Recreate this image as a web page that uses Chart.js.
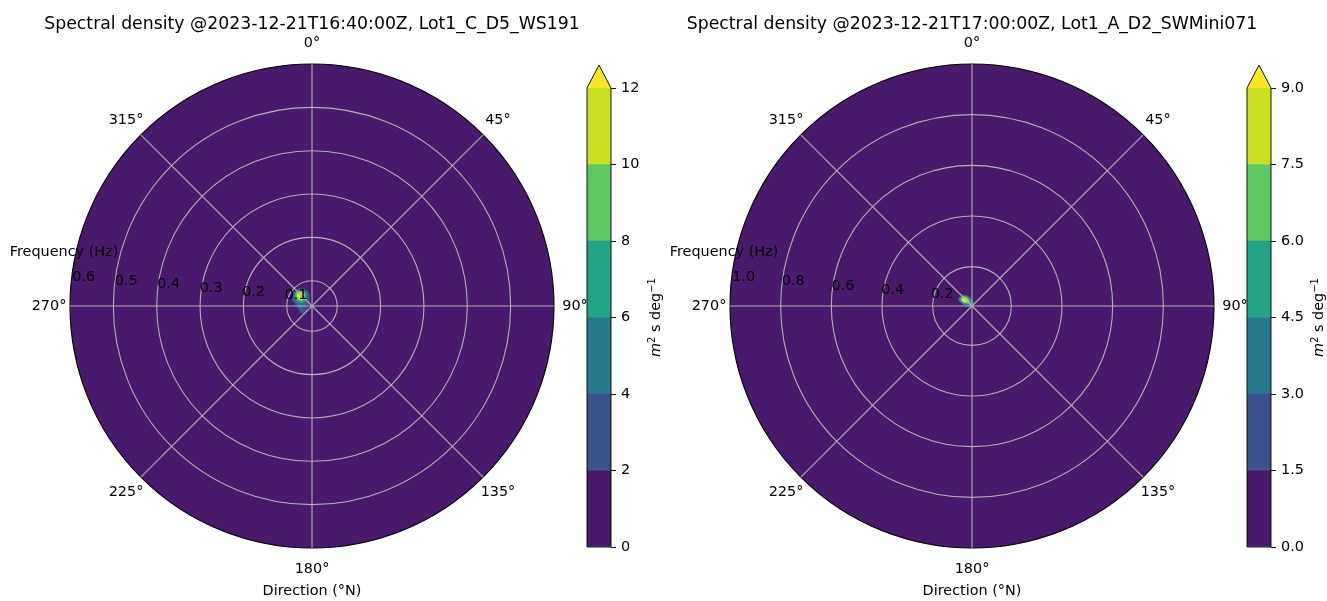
<!DOCTYPE html>
<html>
<head>
<meta charset="utf-8">
<title>Directional wave spectra</title>
<script src="https://cdn.jsdelivr.net/npm/chart.js@4/dist/chart.umd.min.js"></script>
<style>
  html, body { margin: 0; padding: 0; background: #ffffff; }
  #figure { position: relative; width: 1327px; height: 601px; overflow: hidden; }
  #figure canvas { position: absolute; top: 0; }
</style>
</head>
<body>
<div id="figure">
  <canvas id="polarWS191" width="640" height="601" style="left:0px"></canvas>
  <canvas id="cbarWS191" width="86" height="601" style="left:577px"></canvas>
  <canvas id="polarSW071" width="640" height="601" style="left:660px"></canvas>
  <canvas id="cbarSW071" width="90" height="601" style="left:1237px"></canvas>
</div>
<script>
// ---------------------------------------------------------------------------
// Shared axis labels
// ---------------------------------------------------------------------------
const directionLabels = ['0°', '45°', '90°', '135°', '180°', '225°', '270°', '315°'];

// ---------------------------------------------------------------------------
// Buoy Lot1_C_D5_WS191
// ---------------------------------------------------------------------------
const titleWS191 = 'Spectral density @2023-12-21T16:40:00Z, Lot1_C_D5_WS191';
const freqLimitsWS191 = [0.0418, 0.6];
const freqTicksWS191 = [0.1, 0.2, 0.3, 0.4, 0.5, 0.6];
const freqTickLabelsWS191 = ['0.1', '0.2', '0.3', '0.4', '0.5', '0.6'];
const levelsWS191 = [0, 2, 4, 6, 8, 10, 12];
const levelTickLabelsWS191 = ['0', '2', '4', '6', '8', '10', '12'];
// filled-contour outlines, [direction °N, frequency Hz]
const ws191Above2 = [[306.4, 0.0962], [326.3, 0.0917], [342.6, 0.0805], [347.5, 0.0630], [303.7, 0.0501],
                     [231.3, 0.0566], [225.0, 0.0679], [237.5, 0.0718], [266.2, 0.0764], [286.7, 0.0900]];
const ws191Above4 = [[309.5, 0.0926], [327.1, 0.0885], [340.3, 0.0761], [320.2, 0.0598], [270.0, 0.0603],
                     [254.7, 0.0681], [274.1, 0.0742], [291.3, 0.0863]];
const ws191Above6 = [[307.4, 0.0912], [325.5, 0.0866], [335.2, 0.0748], [305.5, 0.0616], [284.0, 0.0704],
                     [295.2, 0.0852]];
const ws191Above8 = [[308.9, 0.0893], [323.7, 0.0847], [329.7, 0.0739], [306.9, 0.0649], [292.6, 0.0718],
                     [296.6, 0.0831]];
const ws191Above10 = [[310.9, 0.0875], [321.8, 0.0829], [324.0, 0.0732], [307.9, 0.0681], [296.6, 0.0727],
                      [301.0, 0.0822]];
const ws191Above12 = [[310.6, 0.0842], [319.8, 0.0810], [318.0, 0.0729], [308.7, 0.0713], [301.6, 0.0771],
                      [305.5, 0.0815]];

// ---------------------------------------------------------------------------
// Buoy Lot1_A_D2_SWMini071
// ---------------------------------------------------------------------------
const titleSW071 = 'Spectral density @2023-12-21T17:00:00Z, Lot1_A_D2_SWMini071';
const freqLimitsSW071 = [0.0447, 1.0];
const freqTicksSW071 = [0.2, 0.4, 0.6, 0.8, 1.0];
const freqTickLabelsSW071 = ['0.2', '0.4', '0.6', '0.8', '1.0'];
const levelsSW071 = [0, 1.5, 3, 4.5, 6, 7.5, 9];
const levelTickLabelsSW071 = ['0.0', '1.5', '3.0', '4.5', '6.0', '7.5', '9.0'];
const sw071Above1p5 = [[304.7, 0.1071], [322.0, 0.1023], [339.1, 0.0889], [0.0, 0.0723], [33.7, 0.0589],
                       [90.0, 0.0487], [251.6, 0.0572], [270.0, 0.0723], [285.3, 0.0897], [293.2, 0.1048]];
const sw071Above3 = [[305.3, 0.1027], [322.7, 0.0968], [337.2, 0.0854], [350.5, 0.0687], [18.4, 0.0572],
                     [296.6, 0.0491], [275.7, 0.0645], [286.7, 0.0859], [294.8, 0.1013]];
const sw071Above4p5 = [[304.8, 0.1000], [321.3, 0.0953], [336.0, 0.0836], [344.7, 0.0672], [350.5, 0.0567],
                       [296.6, 0.0579], [285.9, 0.0734], [290.0, 0.0909], [296.6, 0.0977]];
const sw071Above6 = [[306.0, 0.0984], [319.9, 0.0937], [330.6, 0.0809], [333.4, 0.0668], [320.2, 0.0601],
                     [294.4, 0.0685], [291.3, 0.0828], [296.6, 0.0933]];
const sw071Above7p5 = [[306.9, 0.0941], [319.6, 0.0905], [325.2, 0.0793], [322.1, 0.0672], [300.3, 0.0721],
                       [296.6, 0.0846], [299.7, 0.0925]];
const sw071Above9 = [[306.4, 0.0913], [318.8, 0.0866], [322.4, 0.0771], [315.0, 0.0698], [299.7, 0.0765],
                     [299.1, 0.0854]];

// ---------------------------------------------------------------------------
// Styling
// ---------------------------------------------------------------------------
const bandColors = ['#481a6c', '#3b528b', '#29798e', '#21a585', '#5ec962', '#c8e020'];
const overColor = '#fde725';
const gridColor = '#b0b0b0';
const FONT = '"DejaVu Sans", "Liberation Sans", sans-serif';
const LABEL_PX = 14.4;
const TITLE_PX = 17.3;

Chart.defaults.font.family = FONT;
Chart.defaults.font.size = LABEL_PX;
Chart.defaults.color = '#000';

const panels = [
  {
    polarId: 'polarWS191', cbarId: 'cbarWS191',
    title: titleWS191,
    freqLimits: freqLimitsWS191, freqTicks: freqTicksWS191, freqTickLabels: freqTickLabelsWS191,
    levels: levelsWS191, levelTickLabels: levelTickLabelsWS191,
    contours: [ws191Above2, ws191Above4, ws191Above6, ws191Above8, ws191Above10, ws191Above12],
    cbarAxisWidth: 52, unitOffset: 44
  },
  {
    polarId: 'polarSW071', cbarId: 'cbarSW071',
    title: titleSW071,
    freqLimits: freqLimitsSW071, freqTicks: freqTicksSW071, freqTickLabels: freqTickLabelsSW071,
    levels: levelsSW071, levelTickLabels: levelTickLabelsSW071,
    contours: [sw071Above1p5, sw071Above3, sw071Above4p5, sw071Above6, sw071Above7p5, sw071Above9],
    cbarAxisWidth: 56, unitOffset: 47
  }
];

// Compass direction (clockwise from north) and frequency -> plane coordinates,
// with the lowest frequency sitting at the pole.
function toPlane(dir, f, fmin) {
  const t = dir * Math.PI / 180;
  const d = f - fmin;
  return { x: d * Math.sin(t), y: d * Math.cos(t) };
}

// Titles, compass labels, frequency labels and axis names around the polar axes.
function polarTextPlugin(p) {
  return {
    id: 'polarText',
    afterDraw(chart) {
      const r = chart.scales.r;
      const ctx = chart.ctx;
      ctx.save();
      ctx.fillStyle = '#000';
      ctx.textAlign = 'center';
      ctx.textBaseline = 'middle';

      ctx.font = TITLE_PX + 'px ' + FONT;
      ctx.fillText(p.title, r.xCenter, 24.5);

      ctx.font = LABEL_PX + 'px ' + FONT;
      chart.data.labels.forEach((lab, i) => {
        const pos = r.getPointPosition(i, r.drawingArea + 21);
        ctx.fillText(lab, pos.x, pos.y);
      });

      // frequency labels run just above the westward spoke
      p.freqTicks.forEach((v, i) => {
        const d = r.getDistanceFromCenterForValue(v);
        ctx.fillText(p.freqTickLabels[i], r.xCenter - 0.98 * d + 8.8, r.yCenter - 0.083 * d - 8.5);
      });

      ctx.fillText('Frequency (Hz)', r.xCenter - 248, 252);
      ctx.fillText('Direction (°N)', r.xCenter, 591.5);
      ctx.restore();
    }
  };
}

function buildPolar(p) {
  const [fmin, fmax] = p.freqLimits;
  const span = fmax - fmin;
  const common = {
    type: 'line', indexAxis: 'x', fill: 'shape', borderWidth: 0, pointRadius: 0, pointHitRadius: 0,
    tension: 0.35, xAxisID: 'x', yAxisID: 'y'
  };
  const datasets = [];

  // lowest band fills the whole disc out to the highest frequency
  const rim = [];
  for (let a = 0; a <= 360; a += 2) rim.push(toPlane(a, fmax, fmin));
  datasets.push(Object.assign({}, common, { data: rim, backgroundColor: bandColors[0], tension: 0, order: 100 }));

  p.contours.forEach((poly, k) => {
    const pts = poly.map(([d, f]) => toPlane(d, f, fmin));
    pts.push(pts[0]);
    const color = k + 1 < bandColors.length ? bandColors[k + 1] : overColor;
    datasets.push(Object.assign({}, common, { data: pts, backgroundColor: color, order: 99 - k }));
  });

  const outer = p.freqTicks.length;
  new Chart(document.getElementById(p.polarId), {
    type: 'radar',
    data: { labels: directionLabels, datasets },
    options: {
      responsive: false,
      animation: false,
      events: [],
      layout: { padding: { left: 70, right: 86, top: 64, bottom: 53 } },
      plugins: { legend: { display: false }, tooltip: { enabled: false }, title: { display: false } },
      scales: {
        r: {
          min: fmin,
          max: fmax,
          startAngle: 0,
          afterBuildTicks: s => { s.ticks = [fmin].concat(p.freqTicks).map(v => ({ value: v })); },
          ticks: { display: false },
          pointLabels: { display: false },
          grid: {
            circular: true,
            z: 1,
            color: c => (c.index === outer ? '#000' : gridColor),
            lineWidth: 1.1
          },
          angleLines: { display: true, color: gridColor, lineWidth: 1.1 }
        },
        x: { type: 'linear', display: false, min: -span, max: span },
        y: { type: 'linear', display: false, min: -span, max: span }
      }
    },
    plugins: [polarTextPlugin(p)]
  });
}

// Extension triangle, outline and unit label of the colour bar.
function drawUnitLabel(ctx, x, y) {
  const small = (LABEL_PX * 0.7).toFixed(2) + 'px ' + FONT;
  const parts = [
    { t: 'm', f: 'italic ' + LABEL_PX + 'px ' + FONT, up: 0 },
    { t: '2', f: small, up: 5.5 },
    { t: ' s deg', f: LABEL_PX + 'px ' + FONT, up: 0 },
    { t: '\u22121', f: small, up: 5.5 }
  ];
  ctx.save();
  ctx.translate(x, y);
  ctx.rotate(-Math.PI / 2);
  ctx.textAlign = 'left';
  ctx.textBaseline = 'alphabetic';
  ctx.fillStyle = '#000';
  let total = 0;
  parts.forEach(pt => { ctx.font = pt.f; pt.w = ctx.measureText(pt.t).width; total += pt.w; });
  let cx = -total / 2;
  parts.forEach(pt => { ctx.font = pt.f; ctx.fillText(pt.t, cx, 5 - pt.up); cx += pt.w; });
  ctx.restore();
}

function cbarDecorPlugin(p) {
  return {
    id: 'cbarDecor',
    afterDraw(chart) {
      const { left, right, top, bottom } = chart.chartArea;
      const ctx = chart.ctx;
      const tip = top - 0.05 * (bottom - top);
      const mid = (left + right) / 2;
      ctx.save();
      ctx.beginPath();
      ctx.moveTo(left, top);
      ctx.lineTo(mid, tip);
      ctx.lineTo(right, top);
      ctx.closePath();
      ctx.fillStyle = overColor;
      ctx.fill();

      ctx.beginPath();
      ctx.moveTo(left, bottom);
      ctx.lineTo(left, top);
      ctx.lineTo(mid, tip);
      ctx.lineTo(right, top);
      ctx.lineTo(right, bottom);
      ctx.closePath();
      ctx.strokeStyle = '#000';
      ctx.lineWidth = 0.9;
      ctx.stroke();
      ctx.restore();

      drawUnitLabel(ctx, right + p.unitOffset, (top + bottom) / 2);
    }
  };
}

function buildColorbar(p) {
  const lv = p.levels;
  const datasets = bandColors.map((c, i) => ({
    data: [[lv[i], lv[i + 1]]],
    backgroundColor: c,
    borderWidth: 0,
    barPercentage: 1,
    categoryPercentage: 1,
    grouped: false
  }));
  new Chart(document.getElementById(p.cbarId), {
    type: 'bar',
    data: { labels: [''], datasets },
    options: {
      responsive: false,
      animation: false,
      events: [],
      layout: { padding: { left: 10, right: 0, top: 88, bottom: 54 } },
      plugins: { legend: { display: false }, tooltip: { enabled: false } },
      scales: {
        x: { display: false },
        y: {
          position: 'right',
          min: lv[0],
          max: lv[lv.length - 1],
          afterBuildTicks: s => { s.ticks = lv.map(v => ({ value: v })); },
          afterFit: s => { s.width = p.cbarAxisWidth; },
          ticks: {
            color: '#000',
            padding: 5,
            autoSkip: false,
            font: { size: LABEL_PX },
            callback: (v, i) => p.levelTickLabels[i]
          },
          grid: { drawOnChartArea: false, drawTicks: true, tickLength: 5, tickColor: '#000', tickWidth: 0.9 },
          border: { display: false }
        }
      }
    },
    plugins: [cbarDecorPlugin(p)]
  });
}

panels.forEach(p => { buildPolar(p); buildColorbar(p); });
</script>
</body>
</html>
